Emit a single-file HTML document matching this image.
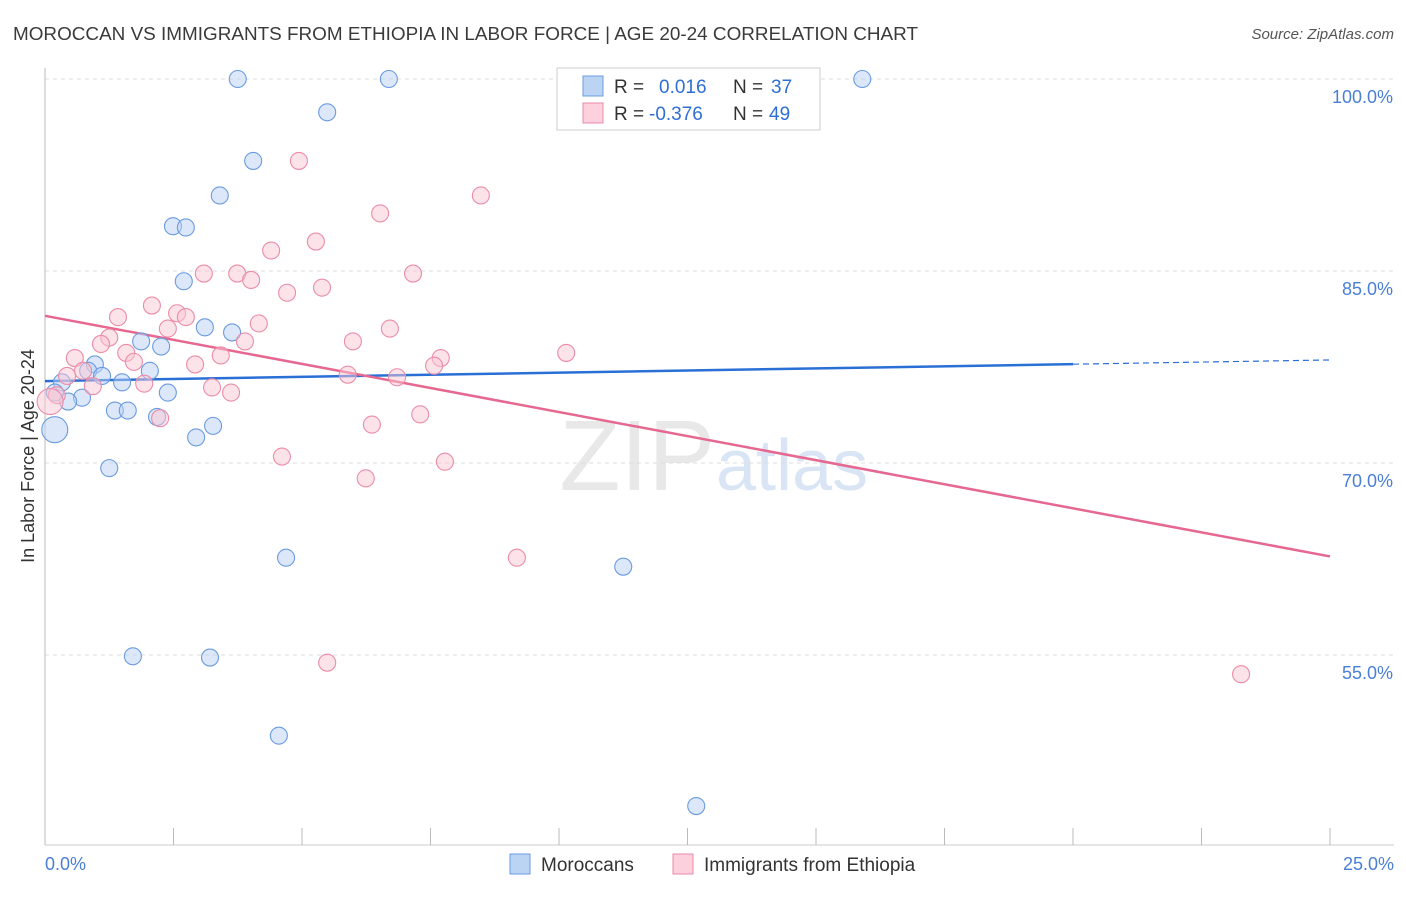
<!DOCTYPE html>
<html><head><meta charset="utf-8"><style>
body{margin:0;background:#fff;font-family:"Liberation Sans",sans-serif;}
svg text{font-family:"Liberation Sans",sans-serif;}
</style></head><body>
<svg id="chart" width="1406" height="892" viewBox="0 0 1406 892" xmlns="http://www.w3.org/2000/svg">
<text x="13" y="40" font-size="18" fill="#3a3a3a" textLength="905" lengthAdjust="spacingAndGlyphs">MOROCCAN VS IMMIGRANTS FROM ETHIOPIA IN LABOR FORCE | AGE 20-24 CORRELATION CHART</text>
<text x="1394" y="39" font-size="15" fill="#555" text-anchor="end" font-style="italic">Source: ZipAtlas.com</text>
<text x="715" y="490" font-size="100" fill="#e8e8e8" text-anchor="end" font-family="Liberation Serif">ZIP</text>
<text x="716" y="490" font-size="72" fill="#d9e5f4">atlas</text>
<g id="grid"></g>
<g id="axes"></g>
<g id="lines"></g>
<g id="points"></g>
<text transform="translate(34,456) rotate(-90)" font-size="18" fill="#333" text-anchor="middle">In Labor Force | Age 20-24</text>
<g>
<rect x="557" y="68" width="263" height="62" fill="#fff" stroke="#ccc"/>
<rect x="583" y="76" width="20" height="20" fill="#bcd4f4" stroke="#6a9be0"/>
<rect x="583" y="103" width="20" height="20" fill="#fcd0dc" stroke="#ea8aa8"/>
<text y="93" font-size="19" fill="#333"><tspan x="614">R =</tspan><tspan x="659" fill="#2f6fd4">0.016</tspan><tspan x="733">N =</tspan><tspan x="771" fill="#2f6fd4">37</tspan></text>
<text y="120" font-size="19" fill="#333"><tspan x="614">R =</tspan><tspan x="649" fill="#2f6fd4">-0.376</tspan><tspan x="733">N =</tspan><tspan x="769" fill="#2f6fd4">49</tspan></text>
</g>
<g>
<rect x="510" y="854" width="20" height="20" fill="#bcd4f4" stroke="#6a9be0"/>
<text x="541" y="871" font-size="19" fill="#333">Moroccans</text>
<rect x="673" y="854" width="20" height="20" fill="#fcd0dc" stroke="#ea8aa8"/>
<text x="704" y="871" font-size="19" fill="#333">Immigrants from Ethiopia</text>
</g>
<text x="45" y="870" font-size="18" fill="#4a7fd6">0.0%</text>
<text x="1394" y="870" font-size="18" fill="#4a7fd6" text-anchor="end">25.0%</text>
</svg>
<script>
const yTicks=[100,85,70,55];
const xTicks=[0,2.5,5,7.5,10,12.5,15,17.5,20,22.5,25];
const blueX=[3.75,6.69,15.9,5.49,4.05,3.40,2.49,2.74,2.70,3.11,3.64,1.87,2.26,0.97,2.04,0.84,1.11,1.50,0.33,2.39,0.19,0.72,0.45,1.36,1.61,2.18,3.27,2.94,0.19,1.25,4.69,11.25,1.71,3.21,4.55,12.67];
const blueY=[100,100,100,97.4,93.6,90.9,88.5,88.4,84.2,80.6,80.2,79.5,79.1,77.7,77.2,77.2,76.8,76.3,76.3,75.5,75.5,75.1,74.8,74.1,74.1,73.6,72.9,72.0,72.6,69.6,62.6,61.9,54.9,54.8,48.7,43.2];
const pinkX=[4.94,8.48,6.52,5.27,4.40,3.74,3.09,4.01,7.16,4.71,5.39,2.08,2.57,2.74,1.42,4.16,2.39,6.71,1.25,3.89,5.99,1.09,1.58,10.14,0.58,3.42,7.70,1.73,2.92,7.57,0.74,0.43,5.89,6.85,0.93,1.93,3.25,3.62,0.23,0.10,2.24,7.30,6.36,4.61,7.78,6.24,9.18,5.49,23.27];
const pinkY=[93.6,90.9,89.5,87.3,86.6,84.8,84.8,84.3,84.8,83.3,83.7,82.3,81.7,81.4,81.4,80.9,80.5,80.5,79.8,79.5,79.5,79.3,78.6,78.6,78.2,78.4,78.2,77.9,77.7,77.6,77.2,76.8,76.9,76.7,76.0,76.2,75.9,75.5,75.3,74.8,73.5,73.8,73.0,70.5,70.1,68.8,62.6,54.4,53.5];
const blueLine=[76.4,78.05];
const pinkLine=[81.5,62.7];
const sx=v=>45+v/25*1285;
const sy=v=>79+(100-v)/15*192;
const NS="http://www.w3.org/2000/svg";
function mk(tag,attrs,parent){const e=document.createElementNS(NS,tag);for(const k in attrs)e.setAttribute(k,attrs[k]);document.getElementById(parent).appendChild(e);return e;}
yTicks.forEach(t=>{
 const l=mk('line',{x1:45,x2:1394,y1:sy(t),y2:sy(t),stroke:'#ddd','stroke-dasharray':'4,4'},'grid');
 
 
 const tx=mk('text',{x:1393,y:sy(t)+24,'font-size':18,fill:'#4a7fd6','text-anchor':'end'},'grid');
 tx.textContent=t.toFixed(1)+'%';
 
 
});
const ax=mk('line',{x1:45,x2:45,y1:68,y2:845,stroke:'#bbb'},'axes');


const bx=mk('line',{x1:45,x2:1394,y1:845,y2:845,stroke:'#ccc'},'axes');


xTicks.forEach(t=>{
 const l=mk('line',{x1:sx(t),x2:sx(t),y1:828,y2:845,stroke:'#bbb'},'axes');
 
 
});
function pts(X,Y,fill,stroke,name){
 X.forEach((x,i)=>{
  const big=x<0.25&&(Y[i]<73||name==='ethiopia-point'&&Y[i]<75);
  const c=mk('circle',{cx:sx(x),cy:sy(Y[i]),r:big?13:8.5,fill:fill,'fill-opacity':0.5,stroke:stroke,'stroke-width':1.1},'points');
  
  
 });
}
pts(blueX,blueY,'#b9d2f3','#6a9be0','moroccan-point');
pts(pinkX,pinkY,'#f9c6d4','#eb8ca8','ethiopia-point');
const xs=20;
const yb=blueLine[0]+(blueLine[1]-blueLine[0])*xs/25;
const b1=mk('line',{x1:sx(0),y1:sy(blueLine[0]),x2:sx(xs),y2:sy(yb),stroke:'#2a6fd6','stroke-width':2.5},'lines');


const b2=mk('line',{x1:sx(xs),y1:sy(yb),x2:sx(25),y2:sy(blueLine[1]),stroke:'#2a6fd6','stroke-width':1.2,'stroke-dasharray':'6,4'},'lines');


const p1=mk('line',{x1:sx(0),y1:sy(pinkLine[0]),x2:sx(25),y2:sy(pinkLine[1]),stroke:'#e6678f','stroke-width':2.5},'lines');


</script>
</body></html>
